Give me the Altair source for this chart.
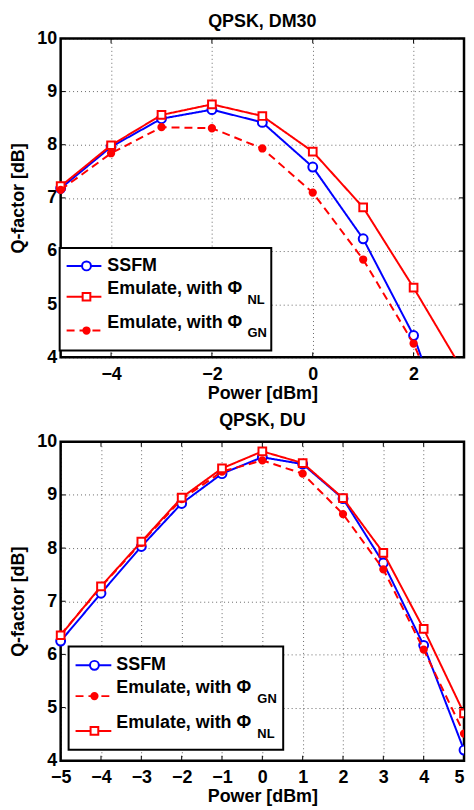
import altair as alt
import pandas as pd

FONT = "Liberation Sans"

# ---------------- data ----------------
power_dm = [-5, -4, -3, -2, -1, 0, 1, 2, 3]
dm_ssfm = [7.18, 7.96, 8.49, 8.66, 8.42, 7.58, 6.23, 4.41, 1.75]
dm_nl = [7.22, 7.99, 8.56, 8.76, 8.54, 7.87, 6.82, 5.31, 3.71]
dm_gn = [7.15, 7.84, 8.33, 8.31, 7.93, 7.10, 5.84, 4.26, 2.00]

power_du = [-5, -4, -3, -2, -1, 0, 1, 2, 3, 4, 5]
du_ssfm = [6.25, 7.15, 8.03, 8.84, 9.40, 9.71, 9.58, 8.93, 7.72, 6.17, 4.20]
du_gn = [6.37, 7.27, 8.10, 8.92, 9.44, 9.65, 9.40, 8.64, 7.60, 6.09, 4.51]
du_nl = [6.36, 7.28, 8.12, 8.95, 9.50, 9.82, 9.60, 8.94, 7.91, 6.48, 4.89]

dm_xticks = [-4, -2, 0, 2]
du_xticks = [-5, -4, -3, -2, -1, 0, 1, 2, 3, 4, 5]
y_ticks = [4, 5, 6, 7, 8, 9, 10]

W, H = 406, 321

STYLES = {
    "SSFM": dict(color="#0000ff", dash=[1, 0], shape="circle", fill="white", size=80),
    "NL": dict(color="#ff0000", dash=[1, 0], shape="square", fill="white", size=60),
    "GN": dict(color="#ff0000", dash=[8, 5], shape="circle", fill="#ff0000", size=40),
}


def panel(title, title_y, power, series, xdom, xticks, legend):
    xenc = alt.X(
        "power:Q",
        scale=alt.Scale(domain=xdom, nice=False, zero=False),
        axis=alt.Axis(values=xticks, format="d",
                      labelAlign=alt.expr(f"datum.value == {xdom[1]} ? 'right' : 'center'")),
        title="Power [dBm]",
    )
    yenc = alt.Y(
        "q:Q",
        scale=alt.Scale(domain=[4, 10], nice=False, zero=False),
        axis=alt.Axis(values=y_ticks, format="d"),
        title="Q-factor [dB]",
    )
    layers = []
    for name, vals in series:
        st = STYLES[name]
        df = pd.DataFrame({"power": power, "q": vals})
        layers.append(
            alt.Chart(df).mark_line(clip=True, color=st["color"], strokeWidth=2,
                                     strokeDash=st["dash"]).encode(x=xenc, y=yenc)
        )
        pt = dict(shape=st["shape"], filled=True, fill=st["fill"], stroke=st["color"],
                  strokeWidth=2, size=st["size"], opacity=1)
        # interior points drawn whole; points on the right-hand limit clipped by the frame
        layers.append(
            alt.Chart(df).transform_filter(
                (alt.datum.q >= 4) & (alt.datum.power < xdom[1])
            ).mark_point(**pt).encode(x=xenc, y=yenc)
        )
        layers.append(
            alt.Chart(df).transform_filter(
                (alt.datum.q >= 4) & (alt.datum.power == xdom[1])
            ).mark_point(clip=True, **pt).encode(x=xenc, y=yenc)
        )
    # inward ticks (box style)
    xt = pd.DataFrame({"power": xticks})
    yt = pd.DataFrame({"q": y_ticks})
    layers.append(alt.Chart(xt).mark_rule(color="black", strokeWidth=1).encode(
        x=xenc, y=alt.value(H), y2=alt.value(H - 5)))
    layers.append(alt.Chart(xt).mark_rule(color="black", strokeWidth=1).encode(
        x=xenc, y=alt.value(0), y2=alt.value(5)))
    layers.append(alt.Chart(yt).mark_rule(color="black", strokeWidth=1).encode(
        y=yenc, x=alt.value(0), x2=alt.value(5)))
    layers.append(alt.Chart(yt).mark_rule(color="black", strokeWidth=1).encode(
        y=yenc, x=alt.value(W), x2=alt.value(W - 5)))

    one = alt.Data(values=[{"a": 1}])
    # panel title
    layers.append(alt.Chart(one).mark_text(align="center", baseline="middle", font=FONT,
                                           fontSize=18, fontWeight="bold",
                                           color="black").encode(
        x=alt.value(W / 2), y=alt.value(title_y), text=alt.value(title)))

    # custom legend
    bx0, bx1, by0, by1 = legend["box"]
    layers.append(alt.Chart(one).mark_rect(fill="white", stroke="black", strokeWidth=2).encode(
        x=alt.value(bx0), x2=alt.value(bx1), y=alt.value(by0), y2=alt.value(by1)))
    lx0, lx1, mx, tx = legend["xs"]
    for (name, label, sub), ly in zip(legend["entries"], legend["ys"]):
        st = STYLES[name]
        layers.append(alt.Chart(one).mark_rule(color=st["color"], strokeWidth=2,
                                               strokeDash=st["dash"]).encode(
            x=alt.value(lx0), x2=alt.value(lx1), y=alt.value(ly)))
        layers.append(alt.Chart(one).mark_point(shape=st["shape"], filled=True, fill=st["fill"],
                                                stroke=st["color"], strokeWidth=2,
                                                size=st["size"], opacity=1).encode(
            x=alt.value(mx), y=alt.value(ly)))
        ty = ly if sub is None else ly - 8
        layers.append(alt.Chart(one).mark_text(align="left", baseline="middle", font=FONT,
                                               fontSize=18, fontWeight="bold",
                                               color="black").encode(
            x=alt.value(tx), y=alt.value(ty), text=alt.value(label)))
        if sub is not None:
            layers.append(alt.Chart(one).mark_text(align="left", baseline="middle", font=FONT,
                                                   fontSize=13, fontWeight="bold",
                                                   color="black").encode(
                x=alt.value(legend["subx"]), y=alt.value(ly + 3), text=alt.value(sub)))

    return alt.layer(*layers).properties(width=W, height=H)


top = panel(
    "QPSK, DM30", -17, power_dm,
    [("SSFM", dm_ssfm), ("NL", dm_nl), ("GN", dm_gn)],
    [-5, 3], dm_xticks,
    dict(box=(-1, 212, 211, 314), xs=(6, 41, 26, 47), subx=188,
         entries=[("SSFM", "SSFM", None), ("NL", "Emulate, with \u03a6", "NL"),
                  ("GN", "Emulate, with \u03a6", "GN")],
         ys=[229, 260, 294]),
)

bottom = panel(
    "QPSK, DU", -21, power_du,
    [("SSFM", du_ssfm), ("GN", du_gn), ("NL", du_nl)],
    [-5, 5], du_xticks,
    dict(box=(8, 224, 206, 310), xs=(15, 51, 34, 56), subx=198,
         entries=[("SSFM", "SSFM", None), ("GN", "Emulate, with \u03a6", "GN"),
                  ("NL", "Emulate, with \u03a6", "NL")],
         ys=[225, 256, 291]),
)

chart = alt.vconcat(top, bottom, spacing=6).properties(
    padding=0, background="white"
).configure_view(
    stroke="black", strokeWidth=2.5, fill="white"
).configure_axis(
    labelFont=FONT, labelFontSize=18, labelFontWeight="bold", labelColor="black",
    titleFont=FONT, titleFontSize=18, titleFontWeight="bold", titleColor="black",
    grid=True, gridDash=[1, 3], gridColor="black", gridOpacity=0.6, gridWidth=1,
    domain=False, ticks=False,
).configure_axisX(labelPadding=8, titlePadding=1).configure_axisY(
    labelPadding=4, titlePadding=9
)

chart.save("out.html", embed_options={"renderer": "svg", "actions": False})
